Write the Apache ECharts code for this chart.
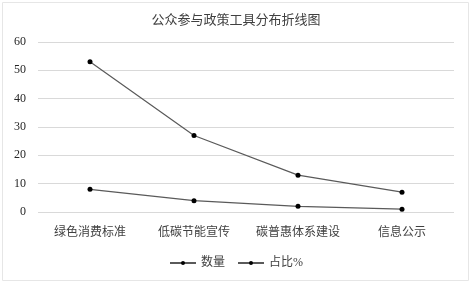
<!DOCTYPE html>
<html><head><meta charset="utf-8">
<script src="https://cdn.jsdelivr.net/npm/echarts@6/dist/echarts.min.js"></script>
<style>html,body{margin:0;padding:0;background:#fff}#c{width:472px;height:285px}</style>
</head><body><div id="c"></div>
<script>
const categories = ['绿色消费标准','低碳节能宣传','碳普惠体系建设','信息公示'];
const countValues = [53, 27, 13, 7];
const shareValues = [8, 4, 2, 1];
const yTicks = [0, 10, 20, 30, 40, 50, 60];
const FONT = '"Liberation Serif", "Noto Sans CJK SC", serif';
const chart = echarts.init(document.getElementById('c'));
chart.setOption({
  animation: false,
  backgroundColor: '#fff',
  graphic: [{type:'rect', shape:{x:2.5,y:2.5,width:466,height:278}, style:{fill:'none', stroke:'#e6e6e6', lineWidth:1}, silent:true}],
  title: {text:'公众参与政策工具分布折线图', left:'center', top:9, textStyle:{fontFamily:FONT, fontSize:13, fontWeight:'normal', color:'#404040'}},
  grid: {left:38, right:18, top:42, bottom:73},
  legend: {bottom:11, left:'center', itemWidth:26, itemHeight:5, itemGap:12, textStyle:{fontFamily:FONT, fontSize:12, color:'#404040'}, data:['数量','占比%']},
  xAxis: {type:'category', data:categories, boundaryGap:true, axisLine:{show:false}, axisTick:{show:false},
    axisLabel:{interval:0, fontFamily:FONT, fontSize:12, color:'#404040', margin:15}},
  yAxis: {type:'value', min:yTicks[0], max:yTicks[yTicks.length-1], interval:10,
    axisLine:{show:false}, axisTick:{show:false},
    axisLabel:{fontFamily:FONT, fontSize:12, color:'#262626', margin:12},
    splitLine:{lineStyle:{color:'#d9d9d9', width:1}}},
  series: [
    {name:'数量', type:'line', data:countValues, symbol:'circle', symbolSize:5, lineStyle:{color:'#5a5a5a', width:1.2}, itemStyle:{color:'#000'}},
    {name:'占比%', type:'line', data:shareValues, symbol:'circle', symbolSize:5, lineStyle:{color:'#5a5a5a', width:1.2}, itemStyle:{color:'#000'}}
  ]
});
</script></body></html>
